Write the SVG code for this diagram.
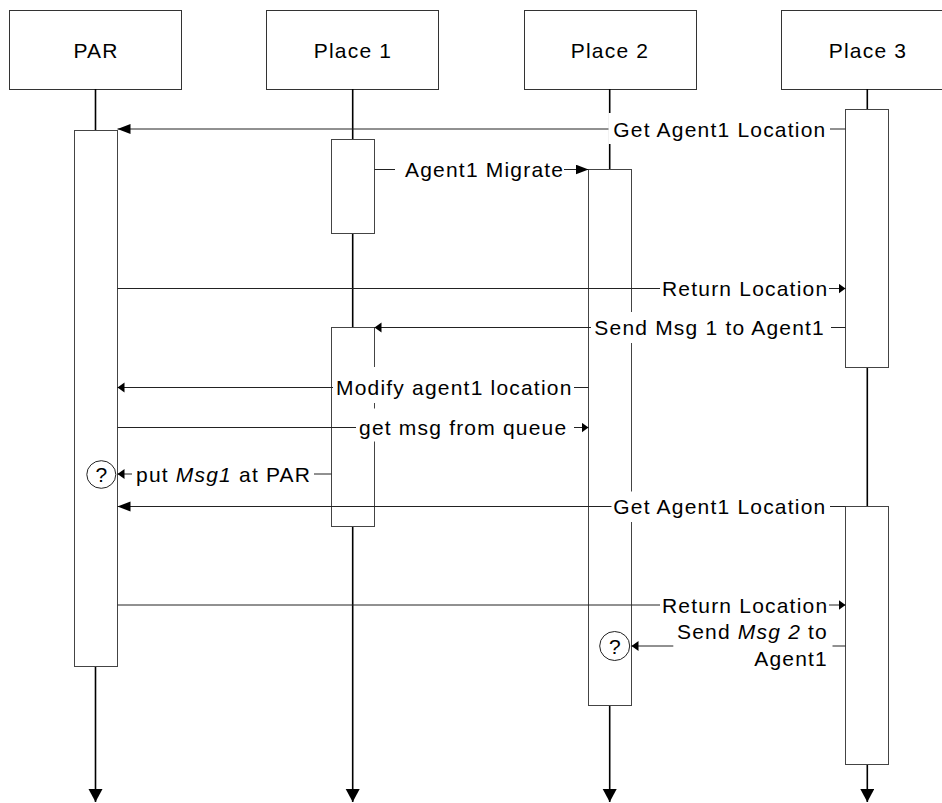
<svg xmlns="http://www.w3.org/2000/svg" width="942" height="803" viewBox="0 0 942 803">
  <style>
    .head { fill: #fff; stroke: #333; stroke-width: 1; }
    .life { stroke: #000; stroke-width: 1.6; fill: none; }
    .act { fill: #fff; stroke: #444; stroke-width: 1; }
    .msg { stroke: #222; stroke-width: 1; fill: none; }
    .bg { fill: #fff; stroke: none; }
    .txt { font-family: "Liberation Sans", Arial, sans-serif; font-size: 21px; letter-spacing: 1.2px; fill: #000; }
    .mid { text-anchor: middle; }
    .it { font-style: italic; }
    .q { fill: #fff; stroke: #222; stroke-width: 1; }
  </style>
  <defs>
    <marker id="big" markerUnits="userSpaceOnUse" markerWidth="14" markerHeight="11" refX="13" refY="5" orient="auto">
      <path d="M0,0 L13,5 L0,10 z" fill="#000"/>
    </marker>
    <marker id="small" markerUnits="userSpaceOnUse" markerWidth="8" markerHeight="11" refX="7" refY="5" orient="auto">
      <path d="M0,0 L7,5 L0,10 z" fill="#000"/>
    </marker>
    <marker id="end" markerUnits="userSpaceOnUse" markerWidth="14" markerHeight="15" refX="13" refY="7" orient="auto">
      <path d="M0,0 L13,7 L0,14 z" fill="#000"/>
    </marker>
  </defs>
  <rect width="942" height="803" fill="#fff"/>

  <!-- participants: header box, lifeline, activation bars -->
  <g id="par">
    <rect class="head" x="9.5" y="10.5" width="172" height="79"/>
    <text class="txt mid" x="96" y="57.5">PAR</text>
    <line class="life" x1="95.5" y1="89" x2="95.5" y2="802" marker-end="url(#end)"/>
    <rect class="act" x="74.5" y="130.5" width="43" height="536"/>
  </g>
  <g id="place1">
    <rect class="head" x="266.5" y="10.5" width="172" height="79"/>
    <text class="txt mid" x="353" y="57.5">Place 1</text>
    <line class="life" x1="352.7" y1="89" x2="352.7" y2="802" marker-end="url(#end)"/>
    <rect class="act" x="331.5" y="139.5" width="43" height="94"/>
    <rect class="act" x="331.5" y="327.5" width="43" height="199"/>
  </g>
  <g id="place2">
    <rect class="head" x="524.5" y="10.5" width="172" height="79"/>
    <text class="txt mid" x="610" y="57.5">Place 2</text>
    <line class="life" x1="609.7" y1="89" x2="609.7" y2="802" marker-end="url(#end)"/>
    <rect class="act" x="588.5" y="169.5" width="43" height="536"/>
  </g>
  <g id="place3">
    <rect class="head" x="781.5" y="10.5" width="172" height="79"/>
    <text class="txt mid" x="868" y="57.5">Place 3</text>
    <line class="life" x1="867.3" y1="89" x2="867.3" y2="802" marker-end="url(#end)"/>
    <rect class="act" x="845.5" y="109.5" width="43" height="258"/>
    <rect class="act" x="845.5" y="506.5" width="43" height="258"/>
  </g>

  <!-- messages -->
  <g id="messages">
    <g id="m1">
      <line class="msg" x1="845.5" y1="129" x2="117.5" y2="129" marker-end="url(#big)"/>
      <rect class="bg" x="608.5" y="113" width="221.5" height="31"/>
      <text class="txt" x="613.3" y="136.5">Get Agent1 Location</text>
    </g>
    <g id="m2">
      <line class="msg" x1="374.5" y1="169.5" x2="588.5" y2="169.5" marker-end="url(#big)"/>
      <rect class="bg" x="395" y="154" width="169" height="31"/>
      <text class="txt" x="405" y="177">Agent1 Migrate</text>
    </g>
    <g id="m3">
      <line class="msg" x1="117.5" y1="288.5" x2="845.5" y2="288.5" marker-end="url(#small)"/>
      <rect class="bg" x="660" y="273" width="169" height="31"/>
      <text class="txt" x="662" y="295.5">Return Location</text>
    </g>
    <g id="m4">
      <line class="msg" x1="845.5" y1="327.5" x2="374.5" y2="327.5" marker-end="url(#small)"/>
      <rect class="bg" x="591" y="312" width="240" height="31"/>
      <text class="txt" x="594.3" y="335">Send Msg 1 to Agent1</text>
    </g>
    <g id="m5">
      <line class="msg" x1="588.5" y1="387.5" x2="117.5" y2="387.5" marker-end="url(#small)"/>
      <rect class="bg" x="333" y="367" width="241" height="36"/>
      <text class="txt" x="336" y="394.5">Modify agent1 location</text>
    </g>
    <g id="m6">
      <line class="msg" x1="117.5" y1="427.5" x2="588.5" y2="427.5" marker-end="url(#small)"/>
      <rect class="bg" x="356" y="408.5" width="218" height="33"/>
      <text class="txt" x="359" y="434.5">get msg from queue</text>
    </g>
    <g id="m7">
      <line class="msg" x1="331.5" y1="474" x2="117.5" y2="474" marker-end="url(#small)"/>
      <rect class="bg" x="132" y="459" width="182" height="30"/>
      <text class="txt" x="136" y="481.5">put <tspan class="it">Msg1</tspan> at PAR</text>
    </g>
    <g id="q1">
      <ellipse class="q" cx="101.3" cy="474.5" rx="14.5" ry="13.8"/>
      <text class="txt mid" x="102" y="482">?</text>
    </g>
    <g id="m8">
      <line class="msg" x1="845.5" y1="506.5" x2="117.5" y2="506.5" marker-end="url(#big)"/>
      <rect class="bg" x="611.5" y="491.5" width="218.5" height="30.5"/>
      <text class="txt" x="613.3" y="514">Get Agent1 Location</text>
    </g>
    <g id="m9">
      <line class="msg" x1="117.5" y1="605" x2="845.5" y2="605" marker-end="url(#small)"/>
      <rect class="bg" x="660" y="590" width="169" height="30"/>
      <text class="txt" x="662" y="612.5">Return Location</text>
    </g>
    <g id="m10">
      <line class="msg" x1="845.5" y1="646" x2="631.5" y2="646" marker-end="url(#small)"/>
      <rect class="bg" x="673.3" y="618" width="159.2" height="56"/>
      <text class="txt" x="828" y="639.3" text-anchor="end">Send <tspan class="it">Msg 2</tspan> to</text>
      <text class="txt" x="828" y="666" text-anchor="end">Agent1</text>
    </g>
    <g id="q2">
      <ellipse class="q" cx="614.7" cy="646" rx="15" ry="14.5"/>
      <text class="txt mid" x="615.5" y="653.5">?</text>
    </g>
  </g>
</svg>
